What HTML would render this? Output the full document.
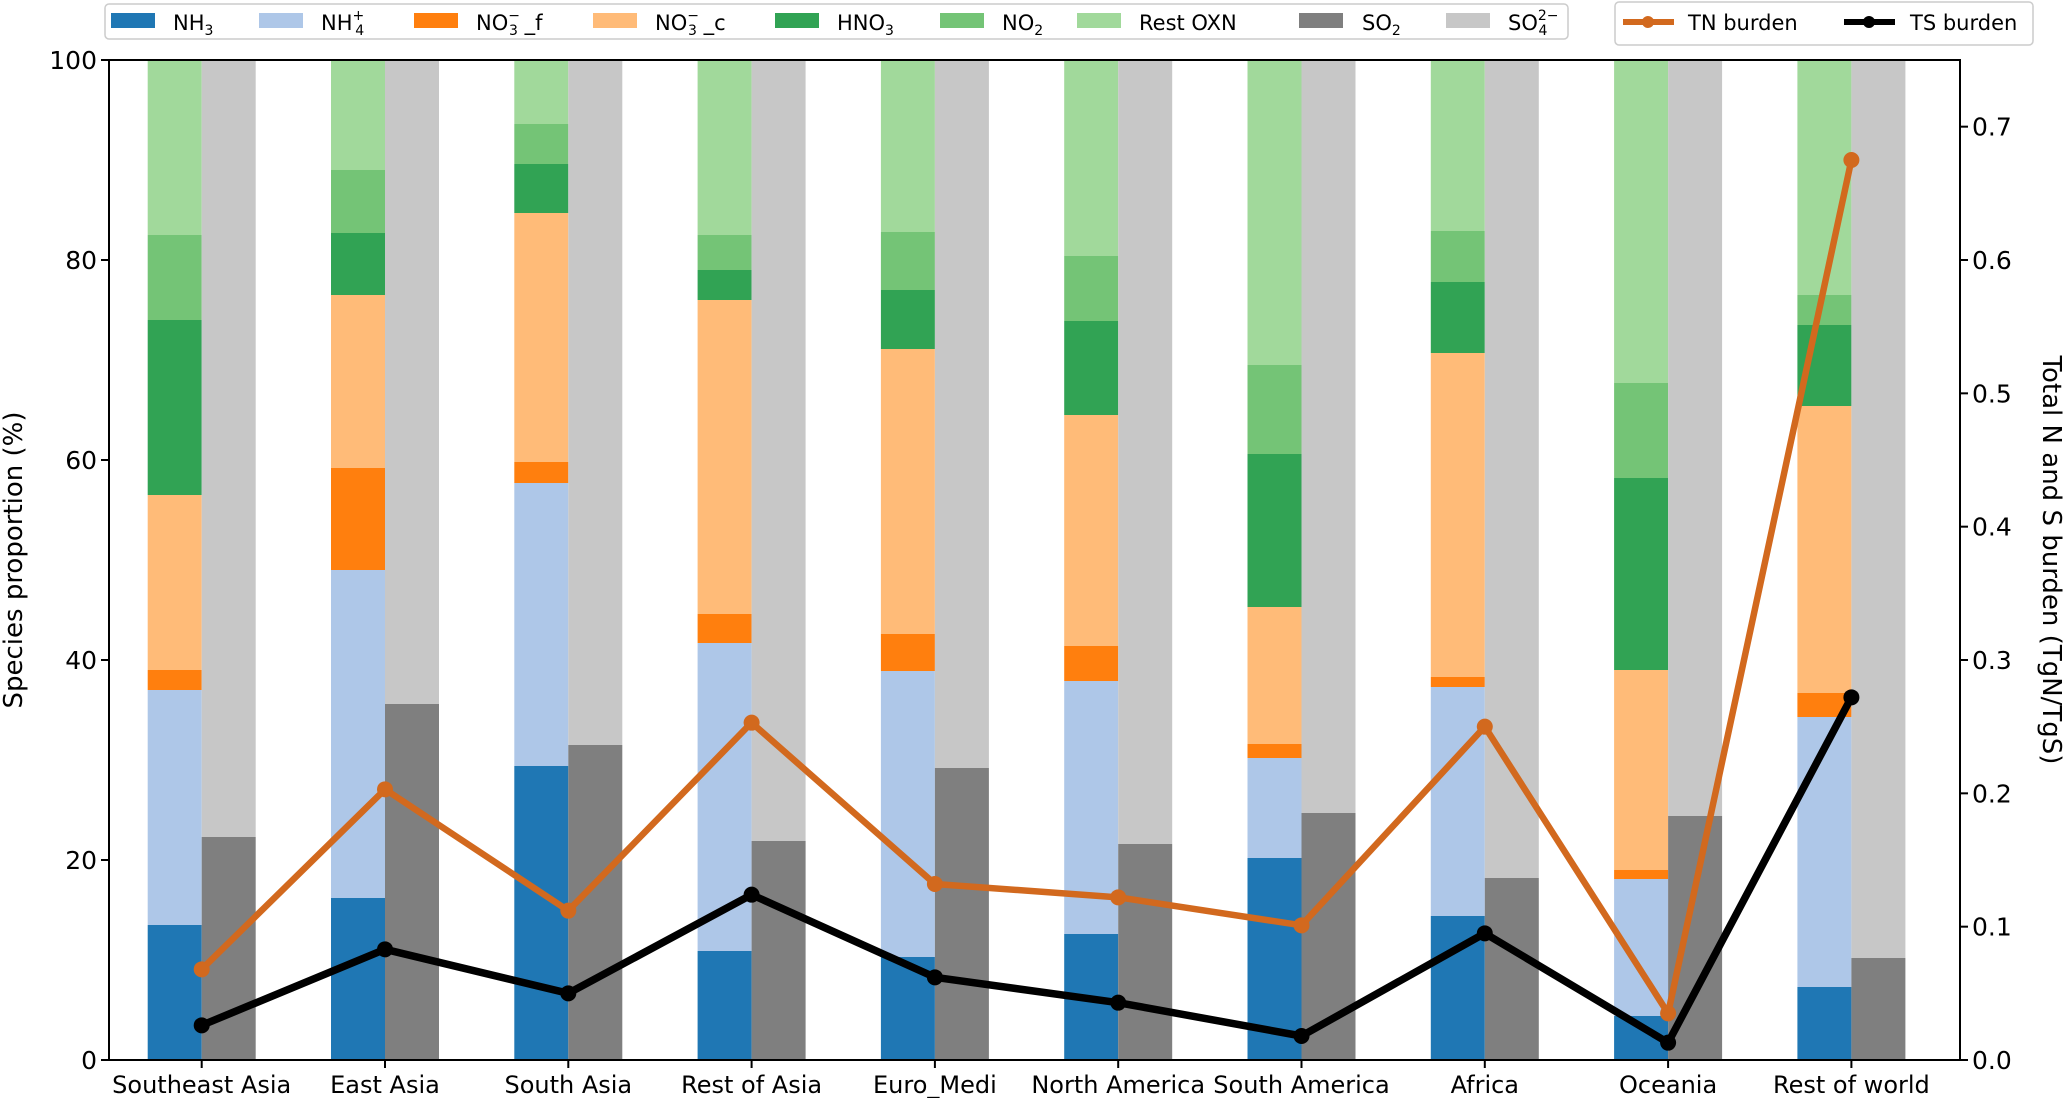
<!DOCTYPE html>
<html><head><meta charset="utf-8"><style>
body{margin:0;background:#fff}
svg{display:block;font-family:"DejaVu Sans","Liberation Sans",sans-serif}
</style></head><body>
<svg id="chart" width="2067" height="1098" viewBox="0 0 2067 1098" xmlns="http://www.w3.org/2000/svg">
<g id="bars"></g>
<g id="lines"></g>
<g id="axes"></g>
<g id="legend"></g>
</svg>
<script>
const regions = ["Southeast Asia","East Asia","South Asia","Rest of Asia","Euro_Medi","North America","South America","Africa","Oceania","Rest of world"];
const nh3 = [13.5,16.2,29.4,10.9,10.3,12.6,20.2,14.4,4.4,7.3];
const nh4 = [23.5,32.8,28.3,30.8,28.6,25.3,10.0,22.9,13.7,27.0];
const no3f = [2.0,10.2,2.1,2.9,3.7,3.5,1.4,1.0,0.9,2.4];
const no3c = [17.5,17.3,24.9,31.4,28.5,23.1,13.7,32.4,20.0,28.7];
const hno3 = [17.5,6.2,4.9,3.0,5.9,9.4,15.3,7.1,19.2,8.1];
const no2 = [8.5,6.3,4.0,3.5,5.8,6.5,8.9,5.1,9.5,3.0];
const restOxn = [17.5,11.0,6.4,17.5,17.2,19.6,30.5,17.1,32.3,23.5];
const so2 = [22.3,35.6,31.5,21.9,29.2,21.6,24.7,18.2,24.4,10.2];
const so4 = [77.7,64.4,68.5,78.1,70.8,78.4,75.3,81.8,75.6,89.8];
const tnBurden = [0.068,0.203,0.112,0.253,0.132,0.122,0.101,0.250,0.035,0.675];
const tsBurden = [0.026,0.083,0.050,0.124,0.062,0.043,0.018,0.095,0.013,0.272];
const leftTicks = [0,20,40,60,80,100];
const rightTicks = [0.0,0.1,0.2,0.3,0.4,0.5,0.6,0.7];

const NS="http://www.w3.org/2000/svg";
const L=109,R=1960,T=60,B=1060;
const x0=201.7, dx=183.3, bw=54;
const xc=i=>x0+i*dx;
const yL=v=>B-(v/100)*(B-T);
const yR=v=>B-(v/0.75)*(B-T);
function mk(tag,attrs,parent){const e=document.createElementNS(NS,tag);for(const k in attrs)e.setAttribute(k,attrs[k]);parent.appendChild(e);return e;}

const gb=document.getElementById('bars');
const nSeries=[["nh3",nh3,"#1f77b4"],["nh4",nh4,"#aec7e8"],["no3f",no3f,"#ff7f0e"],["no3c",no3c,"#ffbb78"],["hno3",hno3,"#31a354"],["no2",no2,"#74c476"],["rest-oxn",restOxn,"#a1d99b"]];
const sSeries=[["so2",so2,"#7f7f7f"],["so4",so4,"#c7c7c7"]];
regions.forEach((r,i)=>{
  let cum=0;
  nSeries.forEach(([nm,arr,c])=>{
    const e=mk('rect',{x:xc(i)-bw,y:yL(cum+arr[i]),width:bw,height:yL(cum)-yL(cum+arr[i]),fill:c},gb);
    
    
    cum+=arr[i];
  });
  cum=0;
  sSeries.forEach(([nm,arr,c])=>{
    const e=mk('rect',{x:xc(i),y:yL(cum+arr[i]),width:bw,height:yL(cum)-yL(cum+arr[i]),fill:c},gb);
    
    
    cum+=arr[i];
  });
});

const gl=document.getElementById('lines');
[["tn",tnBurden,"#d2691e",6.5],["ts",tsBurden,"#000000",7.5]].forEach(([nm,arr,c,w])=>{
  const p=mk('polyline',{points:arr.map((v,i)=>xc(i)+','+yR(v)).join(' '),fill:'none',stroke:c,'stroke-width':w,'stroke-linejoin':'round'},gl);
  
  
  arr.forEach((v,i)=>{
    const d=mk('circle',{cx:xc(i),cy:yR(v),r:8,fill:c},gl);
    
    
  });
});

const ga=document.getElementById('axes');
const fr=mk('rect',{x:L,y:T,width:R-L,height:B-T,fill:'none',stroke:'#000','stroke-width':2},ga);


leftTicks.forEach(v=>{
  mk('line',{x1:L-8,x2:L,y1:yL(v),y2:yL(v),stroke:'#000','stroke-width':2},ga);
  const t=mk('text',{x:L-12,y:yL(v)+9,'text-anchor':'end','font-size':25},ga);
  t.textContent=v;
  
  
});
rightTicks.forEach(v=>{
  mk('line',{x1:R,x2:R+8,y1:yR(v),y2:yR(v),stroke:'#000','stroke-width':2},ga);
  const t=mk('text',{x:R+12,y:yR(v)+9,'font-size':25},ga);
  t.textContent=v.toFixed(1);
  
  
});
regions.forEach((r,i)=>{
  mk('line',{x1:xc(i),x2:xc(i),y1:B,y2:B+8,stroke:'#000','stroke-width':2},ga);
  const t=mk('text',{x:xc(i),y:1093,'text-anchor':'middle','font-size':24},ga);
  t.textContent=r;
  
  
});
</script>
<svg style="position:absolute;left:0;top:0" width="2067" height="1098" xmlns="http://www.w3.org/2000/svg">
<g font-family="DejaVu Sans, Liberation Sans, sans-serif" font-size="26">
<text transform="translate(22,560) rotate(-90)" text-anchor="middle">Species proportion (%)</text>
<text transform="translate(2043,560) rotate(90)" text-anchor="middle">Total N and S burden (TgN/TgS)</text>
</g>
<g font-family="DejaVu Sans, Liberation Sans, sans-serif" font-size="21">
<rect x="105" y="4" width="1463" height="35" rx="4" fill="#fff" stroke="#ccc" stroke-width="1.5"/>
<g><rect x="111" y="13" width="44" height="15" fill="#1f77b4"/><text x="173" y="30">NH<tspan font-size="14" dy="5">3</tspan></text></g>
<g><rect x="259" y="13" width="44" height="15" fill="#aec7e8"/><text x="321" y="30">NH<tspan font-size="14" dy="-10">+</tspan><tspan font-size="14" dx="-9" dy="15">4</tspan></text></g>
<g><rect x="414" y="13" width="44" height="15" fill="#ff7f0e"/><text x="476" y="30">NO<tspan font-size="14" dy="-10">−</tspan><tspan font-size="14" dx="-11" dy="15">3</tspan><tspan dy="-5"> _f</tspan></text></g>
<g><rect x="593" y="13" width="44" height="15" fill="#ffbb78"/><text x="655" y="30">NO<tspan font-size="14" dy="-10">−</tspan><tspan font-size="14" dx="-11" dy="15">3</tspan><tspan dy="-5"> _c</tspan></text></g>
<g><rect x="775" y="13" width="44" height="15" fill="#31a354"/><text x="837" y="30">HNO<tspan font-size="14" dy="5">3</tspan></text></g>
<g><rect x="940" y="13" width="44" height="15" fill="#74c476"/><text x="1002" y="30">NO<tspan font-size="14" dy="5">2</tspan></text></g>
<g><rect x="1077" y="13" width="44" height="15" fill="#a1d99b"/><text x="1139" y="30">Rest OXN</text></g>
<g><rect x="1299" y="13" width="44" height="15" fill="#7f7f7f"/><text x="1362" y="30">SO<tspan font-size="14" dy="5">2</tspan></text></g>
<g><rect x="1446" y="13" width="44" height="15" fill="#c7c7c7"/><text x="1508" y="30">SO<tspan font-size="14" dy="-10">2−</tspan><tspan font-size="14" dx="-20" dy="15">4</tspan></text></g>
</g>
<g font-family="DejaVu Sans, Liberation Sans, sans-serif" font-size="21">
<rect x="1615" y="2" width="418" height="43" rx="4" fill="#fff" stroke="#ccc" stroke-width="1.5"/>
<g><line x1="1623" x2="1674" y1="22" y2="22" stroke="#d2691e" stroke-width="6"/><circle cx="1648" cy="22" r="6" fill="#d2691e"/><text x="1688" y="30">TN burden</text></g>
<g><line x1="1844" x2="1895" y1="22" y2="22" stroke="#000" stroke-width="6"/><circle cx="1869" cy="22" r="6" fill="#000"/><text x="1910" y="30">TS burden</text></g>
</g>
</svg>
</body></html>
